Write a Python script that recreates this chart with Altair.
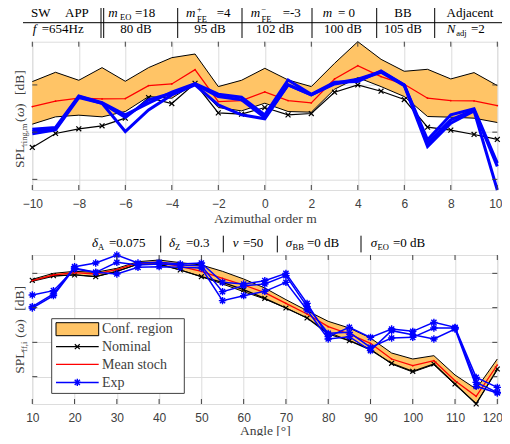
import altair as alt
import pandas as pd

SERIF = "Liberation Serif"
SANS = "Liberation Sans"
DARK = "#404040"
FILL = "#FFC466"

# Top panel: relative level (arbitrary units, the reference y axis has no labels)
m = [-10,-9,-8,-7,-6,-5,-4,-3,-2,-1,0,1,2,3,4,5,6,7,8,9,10]
top_upper = [360,388,364,402,361,402,432,443,345,364,400,365,345,415,480,427,391,397,368,387,348]
top_lower = [232,254,259,254,270,315,310,355,282,272,295,270,268,337,372,345,315,255,253,250,237]
top_mean = [285,301,310,308,309,348,353,396,300,303,329,303,296,368,408,375,352,310,303,302,288]
top_nominal = [162,204,218,227,250,312,294,355,266,262,282,260,264,328,350,331,306,223,214,201,186]
top_exp_a = [217,222,317,297,260,295,328,354,322,313,260,365,322,358,360,392,350,185,260,278,115]
top_exp_b = [210,218,315,295,252,305,325,352,315,305,252,350,320,355,367,390,350,175,245,275,105]
top_exp_c = [203,215,312,295,210,275,320,350,290,260,248,350,320,353,365,388,348,165,235,272,34]

# Bottom panel: relative level (arbitrary units)
angle = [10,15,20,25,30,35,40,45,50,55,60,65,70,75,80,85,90,95,100,105,110,115,120]
bot_upper = [454,472,478,475,487,507,512,504,497,478,455,428,393,360,328,308,278,233,215,225,167,125,215]
bot_lower = [448,463,468,462,478,499,500,482,462,440,417,395,368,338,295,270,245,200,176,198,138,82,182]
bot_mean = [450,467,474,470,483,503,505,493,478,457,437,414,382,350,312,290,262,215,195,210,150,103,197]
bot_nominal = [451,465,467,462,478,500,499,482,462,445,423,397,368,338,290,270,242,202,178,200,140,80,185]
bot_exp_a = [372,410,492,503,527,503,505,500,503,445,440,450,472,382,282,310,280,305,298,325,310,160,130]
bot_exp_b = [407,420,485,475,505,497,500,497,495,417,435,440,465,372,292,295,250,278,280,308,308,145,115]
bot_exp_c = [368,405,488,475,470,490,492,490,488,390,405,418,445,362,275,282,240,300,288,275,305,133,113]

top_ticks_y = [350, 208, 66]
bot_ticks_y = [472, 369, 265, 162]
top_ticks_x = list(range(-10, 11, 2))
bot_ticks_x = list(range(10, 121, 10))

X0, T0, B0 = 32.3, 41.7, 254.3
W, HT, HB = 465, 148.3, 149

ONE = alt.Data(values=[{}])


def txt(px, py, s, size=12, style="normal", origin=T0, color="black", angle=0, align="left", font=SERIF):
    opts = dict(text=s, font=font, fontSize=size, fontStyle=style, color=color, align=align, baseline="alphabetic")
    if angle:
        opts["angle"] = angle
    return alt.Chart(ONE).mark_text(**opts).encode(x=alt.value(px - X0), y=alt.value(py - origin))


def hline(x1, x2, py, origin=T0, color="black", w=1):
    return alt.Chart(ONE).mark_rule(color=color, strokeWidth=w).encode(
        x=alt.value(x1 - X0), x2=alt.value(x2 - X0), y=alt.value(py - origin))


def vline(px, y1, y2, origin=T0, color="black", w=1):
    return alt.Chart(ONE).mark_rule(color=color, strokeWidth=w).encode(
        x=alt.value(px - X0), y=alt.value(y1 - origin), y2=alt.value(y2 - origin))


XMARK = "M-1,-1L1,1M-1,1L1,-1"
STAR = "M-1,0L1,0M0,-1L0,1M-.7,-.7L.7,.7M-.7,.7L.7,-.7"


def panel(xvals, upper, lower, mean, nominal, exps, xdom, ydom, xticks, yticks, h, xtitle, exp_w, exp_marker, last_shift, title_pad):
    df = pd.DataFrame(dict(x=xvals, upper=upper, lower=lower, mean=mean, nominal=nominal))
    xs = alt.Scale(domain=xdom, nice=False, zero=False)
    ys = alt.Scale(domain=ydom, nice=False, zero=False)
    xaxis = alt.Axis(values=xticks, title=xtitle, grid=True, gridColor="#dcdcdc",
                     ticks=False, domain=False, labelFont=SANS, labelFontSize=12,
                     labelColor=DARK, labelPadding=8, titleFont=SERIF, titleFontSize=13.5,
                     titleColor=DARK, titleFontWeight="normal", titlePadding=title_pad,
                     labelFlush=False, format="d",
                     labelOffset={"condition": {"test": f"datum.value == {xdom[1]}", "value": last_shift}, "value": 0})
    yaxis = alt.Axis(values=yticks, title=None, labels=False, grid=True, gridColor="#dcdcdc",
                     ticks=False, domain=False)
    X = alt.X("x:Q", scale=xs, axis=xaxis)

    def Y(f):
        return alt.Y(f + ":Q", scale=ys, axis=yaxis)

    base = alt.Chart(df)
    layers = [
        base.mark_area(color=FILL, opacity=1).encode(x=X, y=Y("upper"), y2="lower:Q"),
        base.mark_line(color="black", strokeWidth=1).encode(x=X, y=Y("upper")),
        base.mark_line(color="black", strokeWidth=1).encode(x=X, y=Y("lower")),
        base.mark_line(color="black", strokeWidth=1.2).encode(x=X, y=Y("nominal")),
        base.mark_point(shape=XMARK, color="black", size=24, strokeWidth=1.2, filled=False, opacity=1).encode(
            x=X, y=Y("nominal")),
        base.mark_line(color="#ff0000", strokeWidth=1.3).encode(x=X, y=Y("mean")),
        base.mark_point(color="#ff0000", size=3, filled=True, opacity=1).encode(x=X, y=Y("mean")),
    ]
    for e in exps:
        d = pd.DataFrame(dict(x=xvals, v=e))
        layers.append(alt.Chart(d).mark_line(color="#0000ff", strokeWidth=exp_w).encode(x=X, y=Y("v")))
        if exp_marker:
            layers.append(alt.Chart(d).mark_point(shape=STAR, color="#0000ff", size=55, strokeWidth=1.4, filled=False,
                                                  opacity=1).encode(x=X, y=Y("v")))
    # inward ticks on all four sides
    tx = alt.Chart(pd.DataFrame(dict(x=xticks)))
    ty = alt.Chart(pd.DataFrame(dict(y=yticks)))
    layers += [
        tx.mark_rule(color=DARK).encode(x=X, y=alt.value(h), y2=alt.value(h - 5)),
        tx.mark_rule(color=DARK).encode(x=X, y=alt.value(0), y2=alt.value(5)),
        ty.mark_rule(color=DARK).encode(y=Y("y"), x=alt.value(0), x2=alt.value(5)),
        ty.mark_rule(color=DARK).encode(y=Y("y"), x=alt.value(W), x2=alt.value(W - 5)),
    ]
    return layers


top = panel(m, top_upper, top_lower, top_mean, top_nominal, [top_exp_a, top_exp_b, top_exp_c],
            [-10, 10], [34, 480], top_ticks_x, top_ticks_y, HT, "Azimuthal order m", 3, False, -2, 2)
bot = panel(angle, bot_upper, bot_lower, bot_mean, bot_nominal, [bot_exp_a, bot_exp_b, bot_exp_c],
            [10, 120], [80, 527], bot_ticks_x, bot_ticks_y, HB, "Angle [°]", 1.5, True, -5, 0)

# Header table above the top panel
R1, R2 = 17, 33
S = 13
SS = 8.5
top += [
    hline(23, 502, 22.7),
    vline(101, 8, 38), vline(103.7, 8, 38), vline(177.7, 8, 38), vline(242, 8, 38),
    vline(312, 8, 38), vline(376.7, 8, 38), vline(434.7, 8, 38),
    txt(31, R1, "SW", S), txt(65, R1, "APP", S),
    txt(108.3, R1, "m", S, "italic"), txt(120, R1 + 2.5, "EO", SS), txt(135, R1, "=18", S),
    txt(186, R1, "m", S, "italic"), txt(197, R1 - 5.5, "+", SS), txt(197, R1 + 4.7, "FE", SS), txt(216.7, R1, "=4", S),
    txt(250.7, R1, "m", S, "italic"), txt(261.5, R1 - 5.5, "−", SS), txt(261.5, R1 + 4.7, "FE", SS), txt(282.7, R1, "=-3", S),
    txt(322.7, R1, "m", S, "italic"), txt(338, R1, "= 0", S),
    txt(403, R1, "BB", S, align="center"),
    txt(470, R1, "Adjacent", S, align="center"),
    txt(32.7, R2, "f", S, "italic"), txt(41.7, R2, "=654Hz", S),
    txt(136, R2, "80 dB", S, align="center"),
    txt(210, R2, "95 dB", S, align="center"),
    txt(275, R2, "102 dB", S, align="center"),
    txt(343, R2, "100 dB", S, align="center"),
    txt(403, R2, "105 dB", S, align="center"),
    txt(446.7, R2, "N", S, "italic"), txt(456.2, R2 + 2.5, "adj", SS), txt(471, R2, "=2", S),
    # y title
    txt(24, 168, "SPL", 13.5, color=DARK, angle=270),
    txt(27, 146, "ring,m", SS, color=DARK, angle=270),
    txt(24, 122, "(", 13.5, color=DARK, angle=270),
    txt(24, 117, "ω", 13.5, "italic", color=DARK, angle=270),
    txt(24, 108, ")", 13.5, color=DARK, angle=270),
    txt(24, 95, "[dB]", 13.5, color=DARK, angle=270),
]

# Line of parameters above the bottom panel and legend
Y0 = 246.5
bot += [
    txt(92, Y0, "δ", S, "italic", B0), txt(98, Y0 + 2.5, "A", SS, origin=B0), txt(109, Y0, "=0.075", S, origin=B0),
    vline(160.7, 235, 251.7, B0),
    txt(169, Y0, "δ", S, "italic", B0), txt(175, Y0 + 2.5, "Z", SS, origin=B0), txt(186, Y0, "=0.3", S, origin=B0),
    vline(223.3, 235, 251.7, B0),
    txt(232.7, Y0, "ν", S, "italic", B0), txt(243, Y0, "=50", S, origin=B0),
    vline(277.3, 235, 251.7, B0),
    txt(285.7, Y0, "σ", S, "italic", B0), txt(292.5, Y0 + 2.5, "BB", SS, origin=B0), txt(307, Y0, "=0 dB", S, origin=B0),
    vline(361, 235, 251.7, B0),
    txt(370.7, Y0, "σ", S, "italic", B0), txt(377.5, Y0 + 2.5, "EO", SS, origin=B0), txt(393, Y0, "=0 dB", S, origin=B0),
    txt(24, 373, "SPL", 13.5, color=DARK, angle=270, origin=B0),
    txt(27, 351, "ff,i", SS, color=DARK, angle=270, origin=B0),
    txt(24, 337, "(", 13.5, color=DARK, angle=270, origin=B0),
    txt(24, 332, "ω", 13.5, "italic", color=DARK, angle=270, origin=B0),
    txt(24, 323, ")", 13.5, color=DARK, angle=270, origin=B0),
    txt(24, 310, "[dB]", 13.5, color=DARK, angle=270, origin=B0),
    alt.Chart(ONE).mark_rect(fill="white", stroke=DARK, strokeWidth=1).encode(
        x=alt.value(51.7 - X0), x2=alt.value(184.3 - X0), y=alt.value(318 - B0), y2=alt.value(392.7 - B0)),
    alt.Chart(ONE).mark_rect(fill=FILL, stroke="black", strokeWidth=1).encode(
        x=alt.value(56 - X0), x2=alt.value(98.7 - X0), y=alt.value(322 - B0), y2=alt.value(335 - B0)),
    hline(56, 98.7, 346, B0, "black", 1.2),
    alt.Chart(ONE).mark_point(shape=XMARK, color="black", size=24, strokeWidth=1.2, opacity=1).encode(
        x=alt.value(77.3 - X0), y=alt.value(346 - B0)),
    hline(56, 98.7, 363.7, B0, "#ff0000", 1.3),
    hline(56, 98.7, 381.7, B0, "#0000ff", 1.5),
    alt.Chart(ONE).mark_point(shape=STAR, color="#0000ff", size=55, strokeWidth=1.4, opacity=1).encode(
        x=alt.value(77.3 - X0), y=alt.value(381.7 - B0)),
    txt(102, 332.5, "Conf. region", 14, origin=B0, color=DARK),
    txt(102, 350, "Nominal", 14, origin=B0, color=DARK),
    txt(102, 368, "Mean stoch", 14, origin=B0, color=DARK),
    txt(102, 386, "Exp", 14, origin=B0, color=DARK),
]

c1 = alt.layer(*top).properties(width=W, height=HT)
c2 = alt.layer(*bot).properties(width=W, height=HB)

chart = alt.vconcat(c1, c2, spacing=64.3, bounds="flush").properties(
    autosize=alt.AutoSizeParams(type="none"),
    padding={"left": 24.3, "top": 33.7, "right": 4.7, "bottom": 394.3},
).configure_view(stroke=DARK, strokeWidth=1.2).configure(background="white")

chart.save("out.html", embed_options={"renderer": "svg", "actions": False})
